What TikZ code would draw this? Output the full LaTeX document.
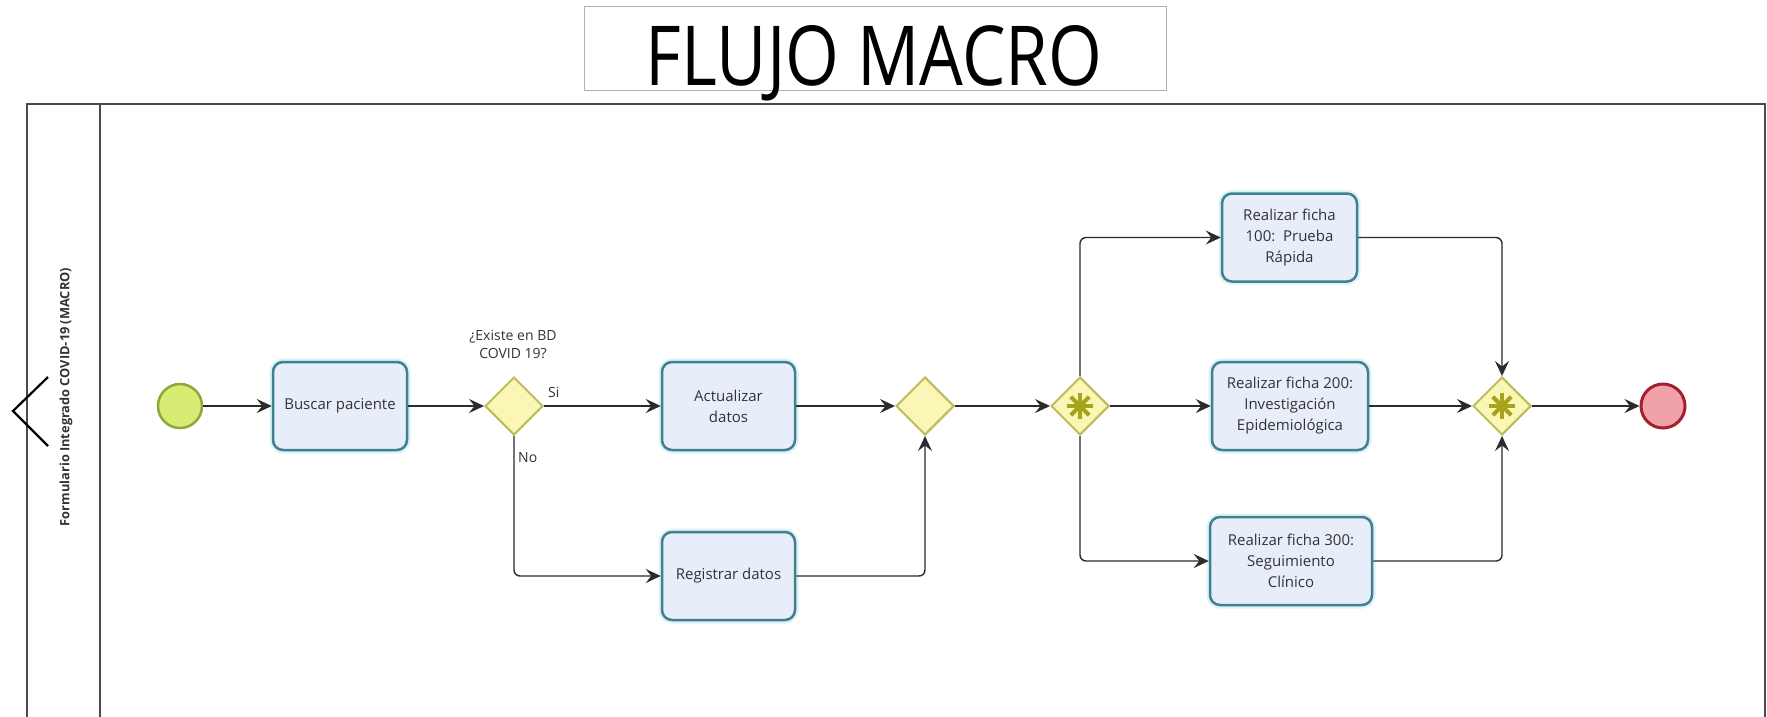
\documentclass[tikz,border=0pt]{standalone}
\usepackage{fontspec}
\setmainfont{Open Sans}
\usetikzlibrary{shapes.geometric,arrows.meta}
\definecolor{taskfill}{HTML}{E7EEFA}
\definecolor{taskdraw}{HTML}{41808F}
\definecolor{taskglow}{HTML}{DDF3F7}
\definecolor{gwfill}{HTML}{FAF7B6}
\definecolor{gwdraw}{HTML}{BDBB5C}
\definecolor{gwmark}{HTML}{A6A31C}
\definecolor{startfill}{HTML}{D8EC73}
\definecolor{startdraw}{HTML}{8CA93C}
\definecolor{endfill}{HTML}{F1A2A9}
\definecolor{enddraw}{HTML}{A2202F}
\definecolor{flowc}{HTML}{2B2B2B}
\definecolor{txt}{HTML}{333333}
\definecolor{poolc}{HTML}{4A4A4A}
\definecolor{titlebd}{HTML}{B0B0B0}
\begin{document}
\begin{tikzpicture}[x=1pt,y=-1pt,
  task/.style={draw=taskdraw, line width=2.5pt, fill=taskfill, rounded corners=10pt,
    minimum height=88pt, align=center, font=\fontsize{15}{21}\selectfont, text=txt,
    inner sep=0pt, preaction={draw=taskglow, line width=7pt}},
  gw/.style={diamond, aspect=1, draw=gwdraw, line width=2pt, fill=gwfill,
    minimum width=58pt, minimum height=58pt, inner sep=0pt},
  flow/.style={draw=flowc, line width=1.4pt, rounded corners=6pt,
    -{Stealth[length=15pt,width=14pt,inset=5.5pt]}},
  lbl/.style={font=\fontsize{14}{18}\selectfont, text=txt, inner sep=0pt, align=center},
  gwstar/.style={draw=gwmark, line width=4pt}
]
\useasboundingbox (0,0) rectangle (1767,716);
\clip (0,0) rectangle (1767,716);
\fill[white] (0,0) rectangle (1767,716);

% title
\node[draw=titlebd, line width=0.8pt, minimum width=582pt, minimum height=84pt, inner sep=0pt] (titlebox) at (875.5,48) {};
\node[anchor=base, inner sep=0pt] (title) at (874,85) {\resizebox{456pt}{60pt}{FLUJO MACRO}};

% pool
\draw[draw=poolc, line width=1.5pt] (27,740) -- (27,104) -- (1765,104) -- (1765,740);
\draw[draw=poolc, line width=1.5pt] (100,104) -- (100,740);
\node[rotate=90, font=\bfseries\fontsize{12.8}{16}\selectfont, text=txt, inner sep=0pt] (lane) at (66,397) {Formulario Integrado COVID-19 (MACRO)};
\draw[line width=2.2pt] (48,377) -- (13,411) -- (48,446);

% events
\node[circle, draw=startdraw, fill=startfill, line width=2.5pt, minimum size=44pt, inner sep=0pt] (start) at (180,406) {};
\node[circle, draw=enddraw, fill=endfill, line width=3pt, minimum size=44pt, inner sep=0pt] (end) at (1663,406) {};

% tasks
\node[task, minimum width=134pt] (buscar) at (340,406) {Buscar paciente};
\node[task, minimum width=133pt] (actual) at (728.5,406) {Actualizar\\datos};
\node[task, minimum width=133pt] (regis) at (728.5,576) {Registrar datos};
\node[task, minimum width=135pt] (f100) at (1289.5,237.5) {Realizar ficha\\100:\ \ Prueba\\Rápida};
\node[task, minimum width=156pt] (f200) at (1290,406) {Realizar ficha 200:\\Investigación\\Epidemiológica};
\node[task, minimum width=162pt] (f300) at (1291,561) {Realizar ficha 300:\\Seguimiento\\Clínico};

% gateways
\node[gw] (g1) at (514,406) {};
\node[gw] (g2) at (925,406) {};
\node[gw] (g3) at (1080,406) {};
\node[gw] (g4) at (1502,406) {};
\foreach \g in {g3,g4}{
  \foreach \a in {0,45,90,135}{
    \draw[gwstar] (\g.center) ++(\a:-13) -- ++(\a:26);
  }
}

% labels
\node[lbl] (q) at (513,344) {¿Existe en BD\\COVID 19?};
\node[lbl, anchor=west] (si) at (548,392) {Si};
\node[lbl, anchor=west] (no) at (518,458) {No};

% flows
\draw[flow] (start) -- (buscar);
\draw[flow] (buscar) -- (g1);
\draw[flow] (g1) -- (actual);
\draw[flow] (g1.south) |- (regis.west);
\draw[flow] (actual) -- (g2);
\draw[flow] (regis.east) -| (g2.south);
\draw[flow] (g2) -- (g3);
\draw[flow] (g3.north) |- (f100.west);
\draw[flow] (g3) -- (f200);
\draw[flow] (g3.south) |- (f300.west);
\draw[flow] (f100.east) -| (g4.north);
\draw[flow] (f200) -- (g4);
\draw[flow] (f300.east) -| (g4.south);
\draw[flow] (g4) -- (end);
\end{tikzpicture}
\end{document}
